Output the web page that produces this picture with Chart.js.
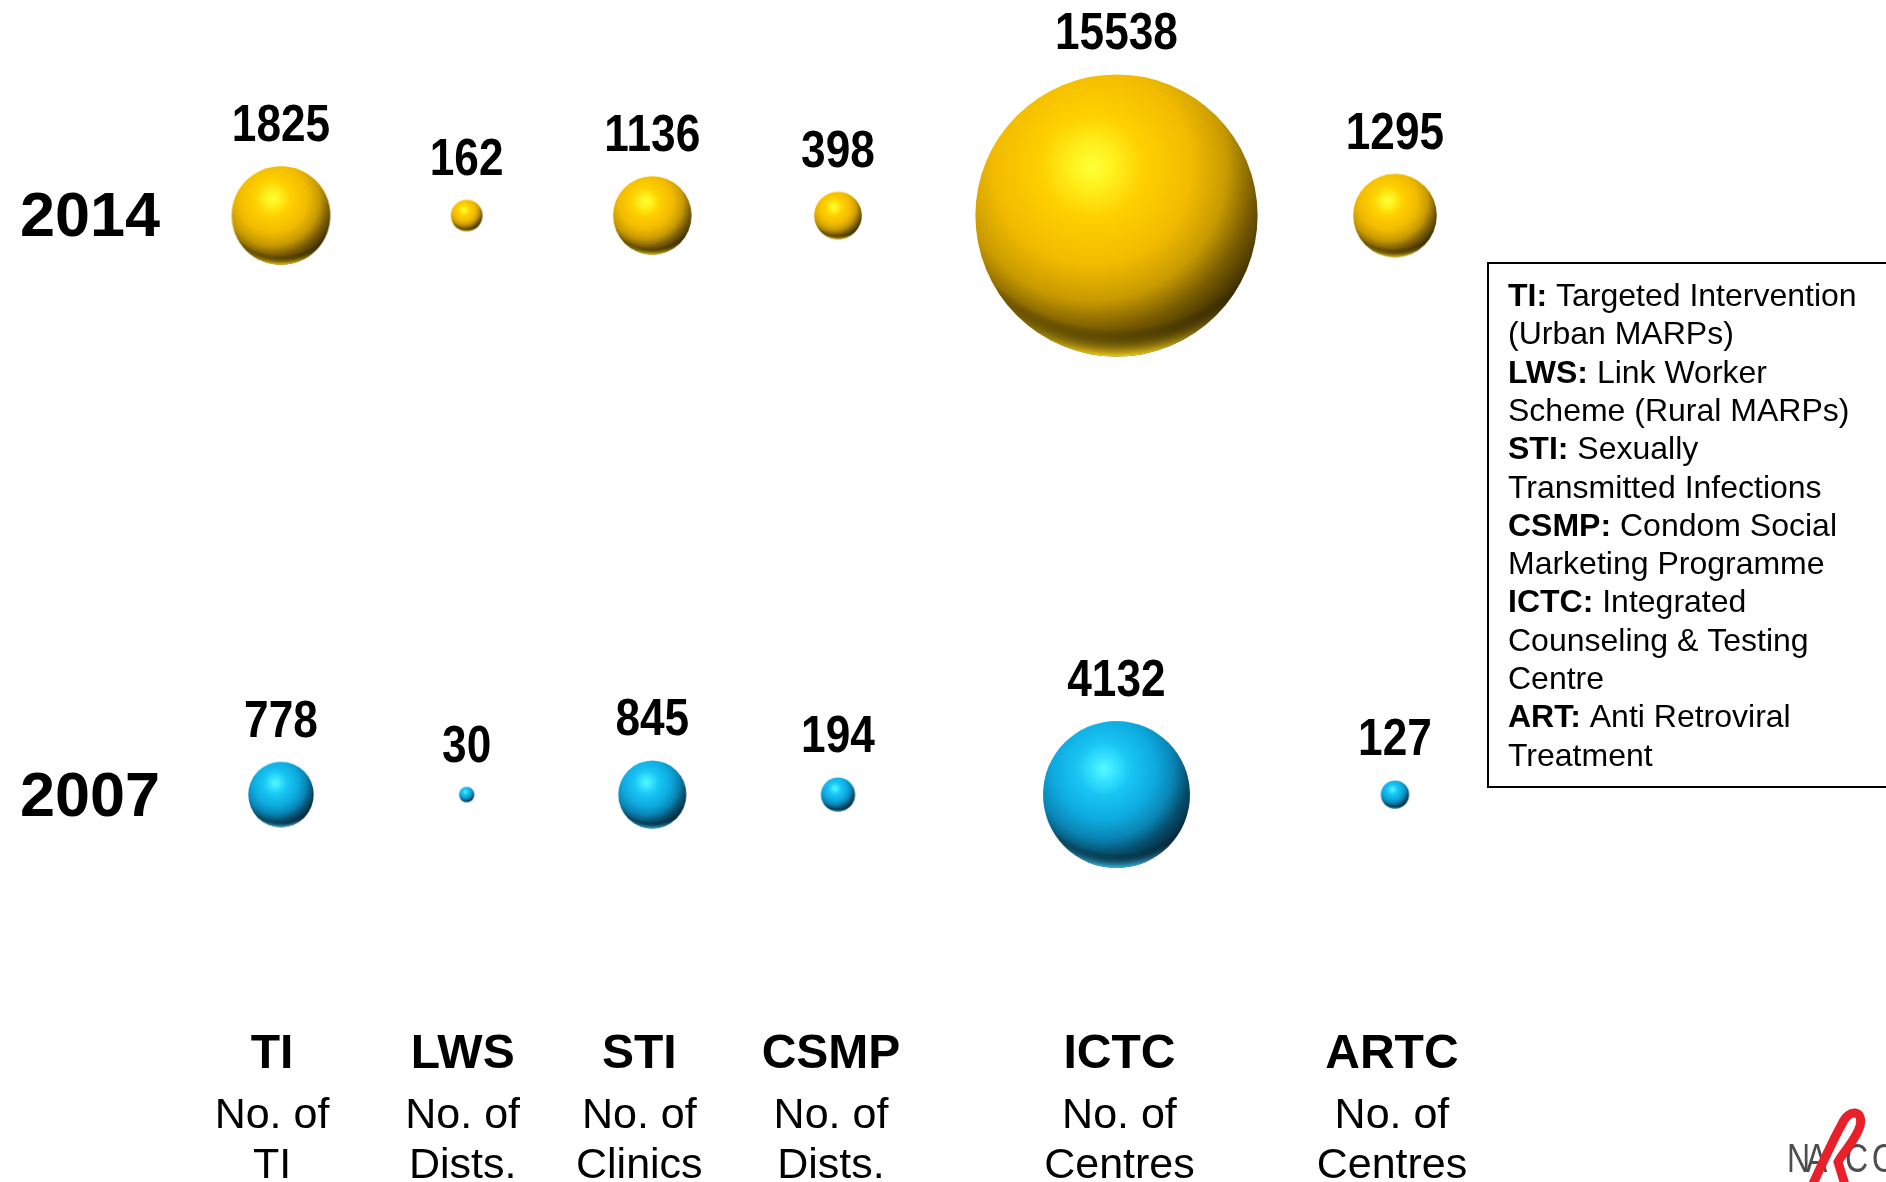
<!DOCTYPE html>
<html>
<head>
<meta charset="utf-8">
<title>Scale-up of HIV programmes, 2007 and 2014</title>
<script src="https://cdn.jsdelivr.net/npm/chart.js@4.4.1/dist/chart.umd.min.js"></script>
<style>
  html, body { margin: 0; padding: 0; background: #ffffff; overflow: hidden; }
  #wrap { width: 1886px; height: 1182px; position: relative; }
  canvas { display: block; }
</style>
</head>
<body>
<div id="wrap"><canvas id="chart" width="1886" height="1182"></canvas></div>
<script>
// ---- data ---------------------------------------------------------------
const programmes = ['TI', 'LWS', 'STI', 'CSMP', 'ICTC', 'ARTC'];
const unitLabels = [
  ['No. of', 'TI'],
  ['No. of', 'Dists.'],
  ['No. of', 'Clinics'],
  ['No. of', 'Dists.'],
  ['No. of', 'Centres'],
  ['No. of', 'Centres']
];
const years = [2014, 2007];
const counts2014 = [1825, 162, 1136, 398, 15538, 1295];
const counts2007 = [778, 30, 845, 194, 4132, 127];
const glossary = [
  ['TI:', ' Targeted Intervention'],
  ['', '(Urban MARPs)'],
  ['LWS:', ' Link Worker'],
  ['', 'Scheme (Rural MARPs)'],
  ['STI:', ' Sexually'],
  ['', 'Transmitted Infections'],
  ['CSMP:', ' Condom Social'],
  ['', 'Marketing Programme'],
  ['ICTC:', ' Integrated'],
  ['', 'Counseling & Testing'],
  ['', 'Centre'],
  ['ART:', ' Anti Retroviral'],
  ['', 'Treatment']
];

// ---- layout -------------------------------------------------------------
// column slot of each programme on the x scale (ICTC gets extra room)
const columnSlot = [1, 2, 3, 4, 5.5, 7];
// small horizontal shift of each column caption relative to its bubble
const captionNudge = [-9, -4, -13, -7, 3, -3];
const FONT = '"Liberation Sans", Arial, Helvetica, sans-serif';
const RADIUS_PER_ROOT = 1.12;   // bubble area proportional to the count
const RADIUS_BASE = 1.5;
const bubbleRadius = v => RADIUS_BASE + RADIUS_PER_ROOT * Math.sqrt(v);

const palettes = {
  2014: {
    body: [[0, '#ffff3c'], [0.1, '#fff21e'], [0.26, '#ffd000'], [0.5, '#f2bb00'],
           [0.68, '#c89a00'], [0.82, '#7c5e00'], [0.93, '#4a3800'], [1, '#2a1f00']],
    rim: 'rgba(255, 214, 24, 0.95)'
  },
  2007: {
    body: [[0, '#55faff'], [0.1, '#3ce6ff'], [0.26, '#18c6f4'], [0.5, '#0eaadf'],
           [0.68, '#0a84b4'], [0.82, '#064f6c'], [0.93, '#04324a'], [1, '#021c28']],
    rim: 'rgba(64, 200, 246, 0.95)'
  }
};

// shaded sphere sprite used as the point style of each bubble
const spriteCache = {};
function sphereSprite(year, r) {
  const key = year + ':' + r.toFixed(2);
  if (spriteCache[key]) return spriteCache[key];
  const pal = palettes[year];
  const size = Math.ceil(2 * r) + 4;
  const cv = document.createElement('canvas');
  cv.width = size; cv.height = size;
  const g = cv.getContext('2d');
  const c = size / 2;
  g.save();
  g.beginPath();
  g.arc(c, c, r, 0, Math.PI * 2);
  g.clip();
  const hx = c - 0.17 * r, hy = c - 0.35 * r;
  const body = g.createRadialGradient(hx, hy, 0, hx, hy, 1.4 * r);
  pal.body.forEach(([o, col]) => body.addColorStop(o, col));
  g.fillStyle = body;
  g.fillRect(0, 0, size, size);
  // reflected light along the lower edge
  const rim = g.createRadialGradient(c, c - 0.5 * r, 0, c, c - 0.5 * r, 1.5 * r);
  rim.addColorStop(0, 'rgba(0,0,0,0)');
  rim.addColorStop(0.87, 'rgba(0,0,0,0)');
  rim.addColorStop(1, pal.rim);
  g.fillStyle = rim;
  g.fillRect(0, 0, size, size);
  g.restore();
  spriteCache[key] = cv;
  return cv;
}

const seriesByYear = { 2014: counts2014, 2007: counts2007 };

const datasets = years.map(year => ({
  label: String(year),
  data: seriesByYear[year].map((v, i) => ({
    x: columnSlot[i],
    y: year,
    r: bubbleRadius(v),
    count: v
  })),
  clip: false,
  pointStyle: ctx => sphereSprite(year, ctx.raw.r),
  backgroundColor: 'rgba(0,0,0,0)',
  borderWidth: 0
}));

// ---- text drawn around the bubbles -------------------------------------
const annotations = {
  id: 'annotations',
  afterDatasetsDraw(chart) {
    const { ctx, scales: { x, y } } = chart;
    ctx.save();
    ctx.fillStyle = '#000000';

    // counts above each bubble
    chart.data.datasets.forEach((ds, di) => {
      const meta = chart.getDatasetMeta(di);
      meta.data.forEach((pt, i) => {
        const raw = ds.data[i];
        ctx.save();
        ctx.translate(pt.x, pt.y - raw.r - 25);
        ctx.scale(0.85, 1);
        ctx.font = 'bold 52px ' + FONT;
        ctx.textAlign = 'center';
        ctx.textBaseline = 'alphabetic';
        ctx.fillText(String(raw.count), 0, 0);
        ctx.restore();
      });
    });

    // year row labels
    ctx.font = 'bold 63px ' + FONT;
    ctx.textAlign = 'left';
    ctx.textBaseline = 'alphabetic';
    years.forEach(year => {
      ctx.fillText(String(year), 20, y.getPixelForValue(year) + 21);
    });

    // programme names and units under each column
    ctx.textAlign = 'center';
    programmes.forEach((name, i) => {
      const cx = x.getPixelForValue(columnSlot[i]) + captionNudge[i];
      ctx.font = 'bold 48px ' + FONT;
      ctx.fillText(name, cx, 1068);
      ctx.font = '43px ' + FONT;
      unitLabels[i].forEach((line, k) => ctx.fillText(line, cx, 1128 + k * 50));
    });

    // glossary box
    ctx.lineWidth = 2;
    ctx.strokeStyle = '#000000';
    ctx.strokeRect(1488, 263, 420, 524);
    ctx.textAlign = 'left';
    glossary.forEach(([key, text], k) => {
      const by = 306 + k * 38.3;
      let tx = 1508;
      if (key) {
        ctx.font = 'bold 32px ' + FONT;
        ctx.fillText(key, tx, by);
        tx += ctx.measureText(key).width;
      }
      ctx.font = '32px ' + FONT;
      ctx.fillText(text, tx, by);
    });

    // NACO mark, bottom right
    ctx.fillStyle = '#4d4d4d';
    ctx.font = '40px ' + FONT;
    [['N', 1787], ['A', 1806], ['C', 1845], ['O', 1872]].forEach(([ch, lx]) => {
      ctx.save();
      ctx.translate(lx, 1172);
      ctx.scale(0.8, 1);
      ctx.fillText(ch, 0, 0);
      ctx.restore();
    });
    ctx.strokeStyle = '#e8202a';
    ctx.lineWidth = 9;
    ctx.lineCap = 'round';
    ctx.beginPath();
    ctx.moveTo(1811, 1188);
    ctx.bezierCurveTo(1822, 1164, 1834, 1138, 1842, 1124);
    ctx.bezierCurveTo(1849, 1108, 1864, 1110, 1860, 1126);
    ctx.bezierCurveTo(1856, 1140, 1843, 1152, 1838, 1162);
    ctx.lineTo(1846, 1188);
    ctx.stroke();

    ctx.restore();
  }
};

new Chart(document.getElementById('chart'), {
  type: 'bubble',
  data: { datasets },
  options: {
    responsive: false,
    animation: false,
    events: [],
    layout: {
      autoPadding: false,
      padding: { left: 95.33, right: 305.4, top: 50.07, bottom: 56.64 }
    },
    scales: {
      x: { type: 'linear', min: 0, max: 8, display: false },
      y: { type: 'linear', min: 2003, max: 2016, display: false }
    },
    plugins: {
      legend: { display: false },
      tooltip: { enabled: false }
    }
  },
  plugins: [annotations]
});
</script>
</body>
</html>
